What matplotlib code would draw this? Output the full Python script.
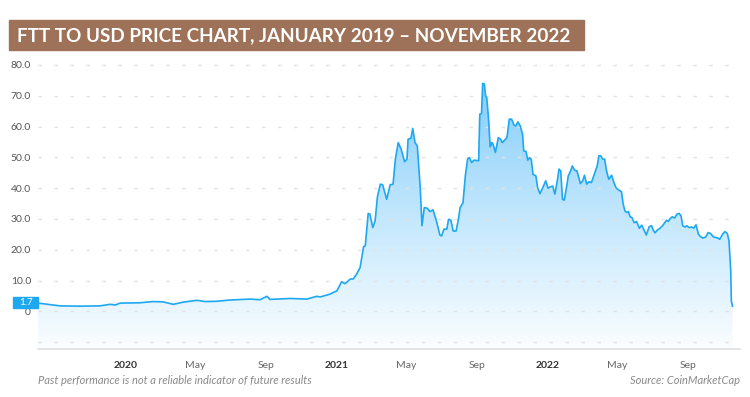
import matplotlib
matplotlib.use("Agg")
import matplotlib.pyplot as plt
import matplotlib.dates as mdates
import numpy as np
import pandas as pd
from matplotlib.patches import Rectangle
from matplotlib.colors import LinearSegmentedColormap

# FTT close
dates = [
    "2019-08-03", "2019-08-24", "2019-09-10", "2019-10-15", "2019-11-18", "2019-12-06",
    "2019-12-15", "2019-12-23", "2020-01-26", "2020-02-18", "2020-03-06", "2020-03-24",
    "2020-04-10", "2020-05-04", "2020-05-18", "2020-06-08", "2020-06-30", "2020-08-04",
    "2020-08-21", "2020-09-02", "2020-09-07", "2020-10-12", "2020-11-10", "2020-11-27",
    "2020-12-03", "2020-12-20", "2021-01-01", "2021-01-09", "2021-01-15", "2021-01-24",
    "2021-01-29", "2021-02-04", "2021-02-10", "2021-02-16", "2021-02-19", "2021-02-24",
    "2021-02-27", "2021-03-04", "2021-03-08", "2021-03-12", "2021-03-17", "2021-03-21",
    "2021-03-28", "2021-04-03", "2021-04-08", "2021-04-12", "2021-04-17", "2021-04-22",
    "2021-04-28", "2021-05-02", "2021-05-04", "2021-05-09", "2021-05-12", "2021-05-16",
    "2021-05-20", "2021-05-25", "2021-05-28", "2021-06-01", "2021-06-06", "2021-06-11",
    "2021-06-16", "2021-06-22", "2021-06-28", "2021-07-01", "2021-07-05", "2021-07-10",
    "2021-07-13", "2021-07-17", "2021-07-21", "2021-07-26", "2021-07-30", "2021-08-02",
    "2021-08-07", "2021-08-11", "2021-08-15", "2021-08-18", "2021-08-22", "2021-08-26",
    "2021-09-03", "2021-09-05", "2021-09-08", "2021-09-10", "2021-09-13", "2021-09-15",
    "2021-09-17", "2021-09-20", "2021-09-23", "2021-09-26", "2021-09-28", "2021-10-02",
    "2021-10-07", "2021-10-11", "2021-10-14", "2021-10-18", "2021-10-22", "2021-10-26",
    "2021-10-30", "2021-11-03", "2021-11-06", "2021-11-10", "2021-11-14", "2021-11-18",
    "2021-11-20", "2021-11-24", "2021-11-27", "2021-11-30", "2021-12-03", "2021-12-06",
    "2021-12-11", "2021-12-14", "2021-12-18", "2021-12-23", "2021-12-28", "2022-01-01",
    "2022-01-05", "2022-01-09", "2022-01-13", "2022-01-17", "2022-01-20", "2022-01-23",
    "2022-01-26", "2022-01-29", "2022-02-02", "2022-02-05", "2022-02-09", "2022-02-12",
    "2022-02-16", "2022-02-20", "2022-02-26", "2022-03-02", "2022-03-05", "2022-03-09",
    "2022-03-13", "2022-03-17", "2022-03-23", "2022-03-27", "2022-03-30", "2022-04-02",
    "2022-04-06", "2022-04-09", "2022-04-12", "2022-04-16", "2022-04-21", "2022-04-25",
    "2022-04-29", "2022-05-04", "2022-05-08", "2022-05-11", "2022-05-14", "2022-05-17",
    "2022-05-20", "2022-05-23", "2022-05-26", "2022-05-30", "2022-06-03", "2022-06-08",
    "2022-06-12", "2022-06-16", "2022-06-20", "2022-06-25", "2022-06-29", "2022-07-02",
    "2022-07-05", "2022-07-09", "2022-07-13", "2022-07-18", "2022-07-22", "2022-07-25",
    "2022-07-28", "2022-08-01", "2022-08-04", "2022-08-08", "2022-08-12", "2022-08-16",
    "2022-08-19", "2022-08-22", "2022-08-26", "2022-08-29", "2022-09-02", "2022-09-06",
    "2022-09-10", "2022-09-14", "2022-09-18", "2022-09-22", "2022-09-26", "2022-10-01",
    "2022-10-05", "2022-10-09", "2022-10-14", "2022-10-18", "2022-10-22", "2022-10-25",
    "2022-10-30", "2022-11-03", "2022-11-07", "2022-11-10", "2022-11-13", "2022-11-14",
    "2022-11-16",
]
prices = [
    2.7, 2.2, 1.8, 1.7, 1.8, 2.3,
    2.1, 2.7, 2.8, 3.2, 3.1, 2.3,
    3.0, 3.6, 3.2, 3.3, 3.7, 4.0,
    3.8, 4.9, 3.9, 4.2, 4.0, 4.9,
    4.7, 5.6, 6.7, 9.6, 9.0, 10.5,
    10.5, 12.1, 14.2, 21.0, 21.3, 31.8,
    31.6, 27.2, 29.4, 37.2, 41.3, 41.1,
    36.4, 41.1, 41.3, 49.4, 54.8, 52.7,
    48.6, 49.4, 55.9, 56.2, 59.4, 54.8,
    53.7, 40.2, 27.8, 33.7, 33.5, 32.4,
    33.0, 29.4, 24.8, 24.5, 26.7, 26.7,
    29.9, 29.6, 26.1, 26.1, 29.9, 33.7,
    35.3, 44.0, 49.6, 49.9, 48.3, 49.1,
    48.9, 64.0, 64.2, 74.0, 73.8, 70.0,
    69.4, 62.9, 53.4, 54.8, 54.3, 51.6,
    56.4, 55.9, 54.8, 55.6, 56.4, 62.4,
    62.4, 60.5, 60.2, 61.5, 60.2, 57.5,
    52.1, 51.9, 49.1, 49.9, 49.4, 44.5,
    44.0, 40.2, 38.2, 40.2, 42.4, 40.0,
    40.4, 40.7, 38.1, 42.4, 46.2, 45.6,
    36.4, 36.1, 40.2, 44.0, 45.6, 47.2,
    45.8, 45.6, 41.5, 42.4, 44.2, 41.3,
    42.1, 41.8, 45.1, 47.2, 50.5, 50.5,
    49.4, 49.4, 45.8, 42.9, 44.2, 41.8,
    40.0, 39.3, 38.9, 34.8, 32.6, 32.1,
    32.4, 30.7, 30.5, 28.8, 29.2, 27.0,
    28.0, 26.4, 24.8, 27.5, 27.8, 26.4,
    25.5, 26.4, 26.9, 27.8, 28.8, 29.6,
    29.2, 30.3, 30.7, 30.3, 31.6, 31.8,
    31.0, 27.8, 27.4, 27.8, 27.2, 27.4,
    27.0, 28.1, 25.1, 24.2, 23.8, 24.2,
    25.6, 25.3, 24.2, 24.0, 23.8, 23.4,
    25.1, 25.9, 25.3, 22.9, 13.1, 3.4,
    1.7,
]
y_ticks = [-10, 0, 10, 20, 30, 40, 50, 60, 70, 80]
y_labels = ["", "0", "10.0", "20.0", "30.0", "40.0", "50.0", "60.0", "70.0", "80.0"]
x_ticks = ["2020-01-01", "2020-05-01", "2020-09-01", "2021-01-01", "2021-05-01",
           "2021-09-01", "2022-01-01", "2022-05-01", "2022-09-01"]
x_labels = ["2020", "May", "Sep", "2021", "May", "Sep", "2022", "May", "Sep"]

TITLE = "FTT TO USD PRICE CHART, JANUARY 2019 \u2013 NOVEMBER 2022"
LINE = "#1ea8f0"
FONT = "Lato"

x = mdates.date2num(pd.to_datetime(dates))
y = np.array(prices)
ymin, ymax = -12.2, 81.6

fig = plt.figure(figsize=(7.5, 3.97), dpi=100)
fig.patch.set_facecolor("white")
ax = fig.add_axes([38 / 750, 1 - 349 / 397, 702 / 750, 289 / 397])
ax.set_facecolor("white")

# gradient fill under the line
cmap = LinearSegmentedColormap.from_list("fill", ["#fbfdff", "#c2e7fd", "#84cdfa"])
grad = np.linspace(0, 1, 256).reshape(-1, 1)
im = ax.imshow(grad, cmap=cmap, aspect="auto", origin="lower",
               extent=[x[0], x[-1], ymin, 75], zorder=1)
poly = ax.fill_between(x, y, ymin, color="none", lw=0)
clip = poly.get_paths()[0]
im.set_clip_path(clip, transform=ax.transData)
ax.plot(x, y, color=LINE, lw=1.2, zorder=3)

ax.set_xlim(mdates.date2num(pd.Timestamp("2019-08-03")),
            mdates.date2num(pd.Timestamp("2022-11-29")))
ax.set_ylim(ymin, ymax)

ax.set_yticks(y_ticks)
ax.set_yticklabels(y_labels, fontsize=7.5, color="#555555", family=FONT)
ax.grid(axis="y", color="#e2e2e2", lw=1, linestyle=(0, (2.5, 9)), zorder=0)
ax.set_xticks(mdates.date2num(pd.to_datetime(x_ticks)))
ax.set_xticklabels(x_labels, fontsize=7.5, family=FONT)
for lbl, txt in zip(ax.get_xticklabels(), x_labels):
    if txt.isdigit():
        lbl.set_fontweight("bold")
        lbl.set_color("#333333")
    else:
        lbl.set_color("#666666")
ax.tick_params(axis="both", length=0)
ax.tick_params(axis="x", pad=9)
ax.tick_params(axis="y", pad=5)
for s in ["top", "right", "left"]:
    ax.spines[s].set_visible(False)
ax.spines["bottom"].set_color("#e0e0e0")
ax.spines["bottom"].set_linewidth(1.2)

# current price tag on the y axis, sitting just above the "0" label
tr = ax.get_yaxis_transform()
tag_y = y[-1] + 1.2
ax.add_patch(Rectangle((-25 / 702, tag_y - 1.65), 25 / 702, 3.3, transform=tr,
                       color="#1ea8f0", clip_on=False, zorder=4))
ax.text(-12.5 / 702, tag_y, f"{y[-1]:.1f}", transform=tr, ha="center", va="center",
        fontsize=7, color="white", family=FONT, zorder=5)

# title banner
fig.patches.append(Rectangle((9 / 750, 1 - 50 / 397), 575 / 750, 30 / 397,
                             transform=fig.transFigure, color="#9e7258", zorder=0))
fig.text(17 / 750, 1 - 35.5 / 397, TITLE, ha="left", va="center", color="white",
         fontsize=13.6, fontweight="bold", family=FONT)

fig.text(38 / 750, 1 - 381 / 397, "Past performance is not a reliable indicator of future results",
         ha="left", va="center", fontsize=8, style="italic", color="#8a8a8a", family=FONT)
fig.text(740 / 750, 1 - 381 / 397, "Source: CoinMarketCap",
         ha="right", va="center", fontsize=8, style="italic", color="#8a8a8a", family=FONT)

fig.savefig("out.png", dpi=100)
